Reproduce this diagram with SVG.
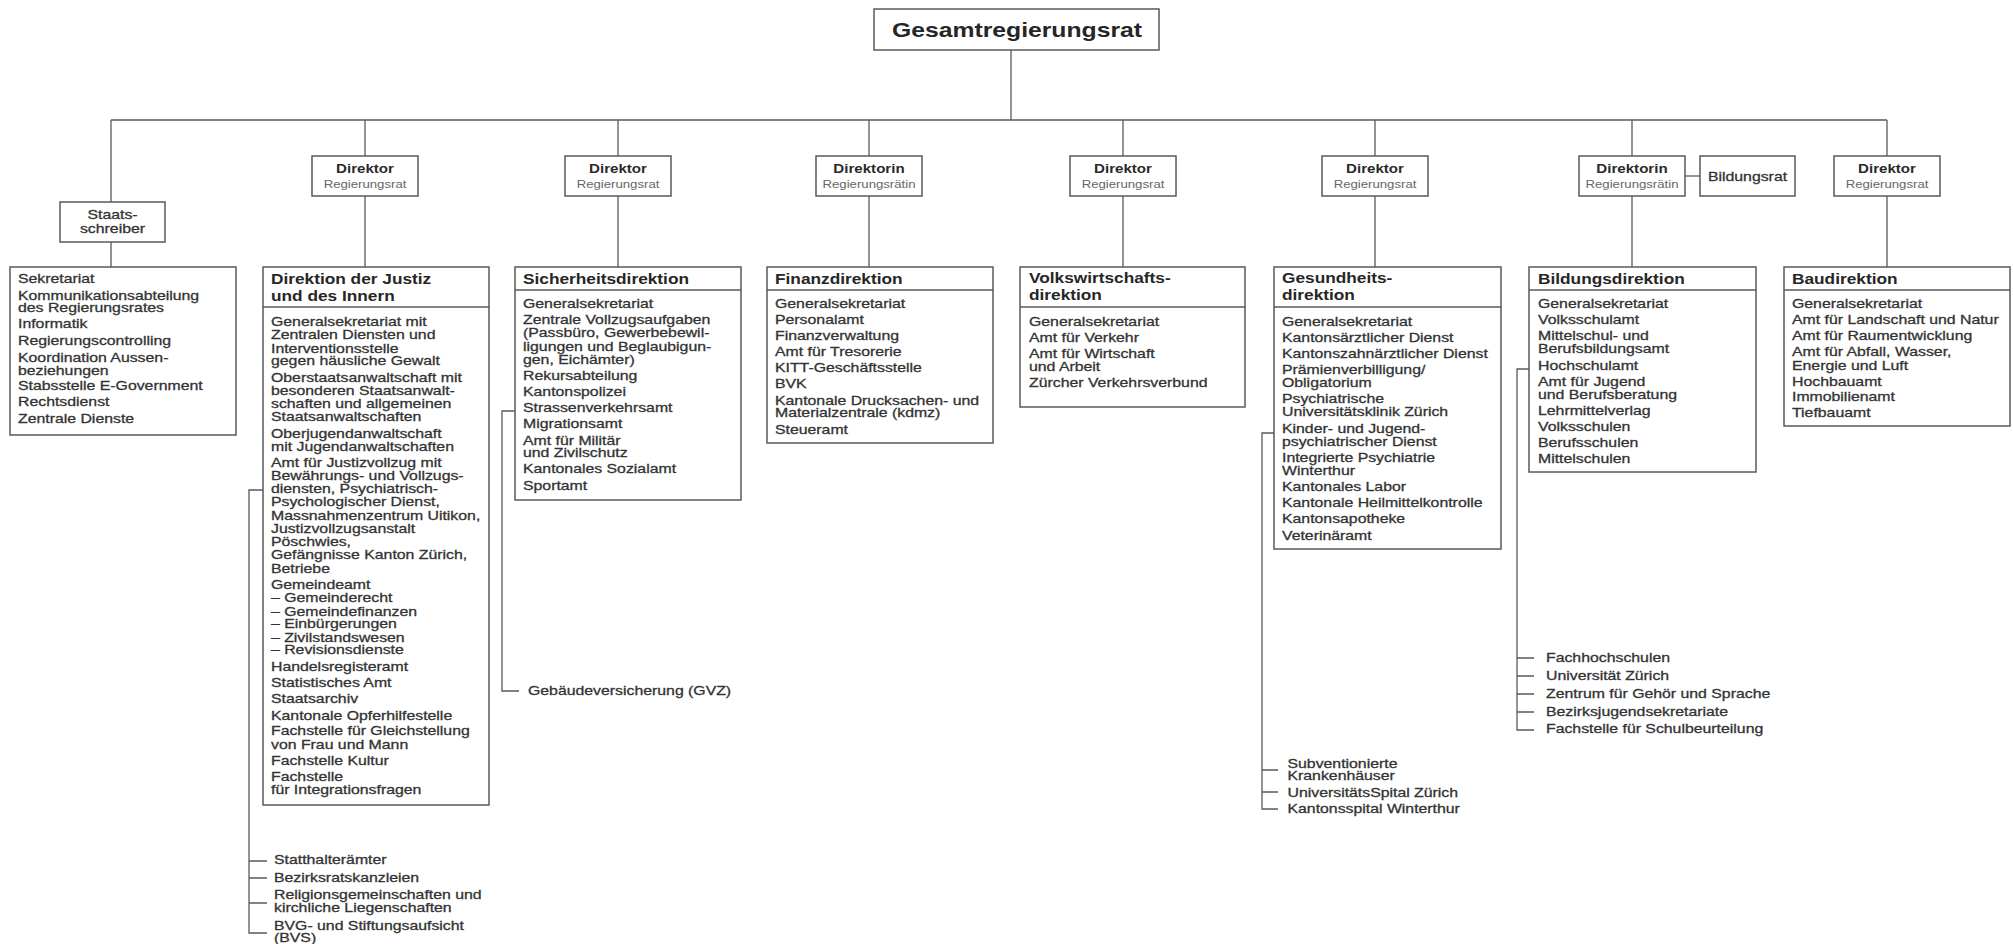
<svg xmlns="http://www.w3.org/2000/svg" width="2013" height="944" viewBox="0 0 2013 944">
<style>
.box{fill:#fff;stroke:#5a5a5a;stroke-width:1.5}
.ln{fill:none;stroke:#5a5a5a;stroke-width:1.3}
text{font-family:"Liberation Sans",Arial,Helvetica,sans-serif;fill:#333}
.b{font-size:13.2px;stroke:#333;stroke-width:0.3}
.h{font-size:14.4px;font-weight:bold;fill:#262626}
.t{font-size:20.6px;font-weight:bold;fill:#262626;text-anchor:middle}
.d{font-size:12.6px;font-weight:bold;fill:#2a2a2a;text-anchor:middle}
.r{font-size:11px;fill:#666;text-anchor:middle}
.c{text-anchor:middle}
</style>
<rect width="2013" height="944" fill="#fff"/>

<g id="connectors" class="ln">
<path d="M1011 50V120M111 120H1887"/>
<path d="M111 120V202M111 242V267"/>
<path d="M365 120V156M365 196V267"/>
<path d="M618 120V156M618 196V267"/>
<path d="M869 120V156M869 196V267"/>
<path d="M1123 120V156M1123 196V267"/>
<path d="M1375 120V156M1375 196V267"/>
<path d="M1632 120V156M1632 196V267"/>
<path d="M1887 120V156M1887 196V267"/>
<path d="M1685 176H1700"/>
<path d="M263 490H249V933H267M249 861H267M249 878H267M249 903H267"/>
<path d="M515 411H502V691H519"/>
<path d="M1274 433H1262V809H1278M1262 770H1278M1262 792H1278"/>
<path d="M1529 369H1517V730H1534M1517 658H1534M1517 676H1534M1517 694H1534M1517 712H1534"/>
</g>

<g id="gesamtregierungsrat">
<rect class="box" x="874" y="9" width="285" height="41"/>
<text class="t" transform="translate(1017 0) scale(1.2 1)" x="0" y="37">Gesamtregierungsrat</text>
</g>

<g id="staatsschreiber">
<rect class="box" x="60" y="202" width="105" height="40"/>
<text class="b c" transform="translate(112.5 0) scale(1.2 1)"><tspan x="0" y="219">Staats-</tspan><tspan x="0" y="233">schreiber</tspan></text>
</g>

<g id="dir-justiz">
<rect class="box" x="312" y="156" width="106" height="40"/>
<text class="d" transform="translate(365 0) scale(1.2 1)" x="0" y="173">Direktor</text>
<text class="r" transform="translate(365 0) scale(1.2 1)" x="0" y="188">Regierungsrat</text>
</g>
<g id="dir-sicherheit">
<rect class="box" x="565" y="156" width="106" height="40"/>
<text class="d" transform="translate(618 0) scale(1.2 1)" x="0" y="173">Direktor</text>
<text class="r" transform="translate(618 0) scale(1.2 1)" x="0" y="188">Regierungsrat</text>
</g>
<g id="dir-finanz">
<rect class="box" x="816" y="156" width="106" height="40"/>
<text class="d" transform="translate(869 0) scale(1.2 1)" x="0" y="173">Direktorin</text>
<text class="r" transform="translate(869 0) scale(1.2 1)" x="0" y="188">Regierungsrätin</text>
</g>
<g id="dir-volkswirtschaft">
<rect class="box" x="1070" y="156" width="106" height="40"/>
<text class="d" transform="translate(1123 0) scale(1.2 1)" x="0" y="173">Direktor</text>
<text class="r" transform="translate(1123 0) scale(1.2 1)" x="0" y="188">Regierungsrat</text>
</g>
<g id="dir-gesundheit">
<rect class="box" x="1322" y="156" width="106" height="40"/>
<text class="d" transform="translate(1375 0) scale(1.2 1)" x="0" y="173">Direktor</text>
<text class="r" transform="translate(1375 0) scale(1.2 1)" x="0" y="188">Regierungsrat</text>
</g>
<g id="dir-bildung">
<rect class="box" x="1579" y="156" width="106" height="40"/>
<text class="d" transform="translate(1632 0) scale(1.2 1)" x="0" y="173">Direktorin</text>
<text class="r" transform="translate(1632 0) scale(1.2 1)" x="0" y="188">Regierungsrätin</text>
</g>
<g id="bildungsrat">
<rect class="box" x="1700" y="156" width="95" height="40"/>
<text class="b c" transform="translate(1747.5 0) scale(1.2 1)" x="0" y="181">Bildungsrat</text>
</g>
<g id="dir-bau">
<rect class="box" x="1834" y="156" width="106" height="40"/>
<text class="d" transform="translate(1887 0) scale(1.2 1)" x="0" y="173">Direktor</text>
<text class="r" transform="translate(1887 0) scale(1.2 1)" x="0" y="188">Regierungsrat</text>
</g>

<g id="staatskanzlei">
<rect class="box" x="10" y="267" width="226" height="168"/>
<text class="b" transform="translate(18 0) scale(1.2 1)">
<tspan x="0" y="283.3">Sekretariat</tspan>
<tspan x="0" y="299.7">Kommunikationsabteilung</tspan>
<tspan x="0" y="312.3">des Regierungsrates</tspan>
<tspan x="0" y="328.3">Informatik</tspan>
<tspan x="0" y="345">Regierungscontrolling</tspan>
<tspan x="0" y="361.7">Koordination Aussen-</tspan>
<tspan x="0" y="374.7">beziehungen</tspan>
<tspan x="0" y="390.3">Stabsstelle E-Government</tspan>
<tspan x="0" y="406.3">Rechtsdienst</tspan>
<tspan x="0" y="422.7">Zentrale Dienste</tspan>
</text>
</g>

<g id="justiz">
<rect class="box" x="263" y="267" width="226" height="538"/>
<line class="ln" x1="263" y1="307" x2="489" y2="307"/>
<text class="h" transform="translate(271 0) scale(1.2 1)"><tspan x="0" y="284">Direktion der Justiz</tspan><tspan x="0" y="301">und des Innern</tspan></text>
<text class="b" transform="translate(271 0) scale(1.2 1)">
<tspan x="0" y="326">Generalsekretariat mit</tspan>
<tspan x="0" y="339.3">Zentralen Diensten und</tspan>
<tspan x="0" y="352.7">Interventionsstelle</tspan>
<tspan x="0" y="365.3">gegen häusliche Gewalt</tspan>
<tspan x="0" y="381.7">Oberstaatsanwaltschaft mit</tspan>
<tspan x="0" y="395">besonderen Staatsanwalt-</tspan>
<tspan x="0" y="408.3">schaften und allgemeinen</tspan>
<tspan x="0" y="421">Staatsanwaltschaften</tspan>
<tspan x="0" y="437.7">Oberjugendanwaltschaft</tspan>
<tspan x="0" y="451">mit Jugendanwaltschaften</tspan>
<tspan x="0" y="467">Amt für Justizvollzug mit</tspan>
<tspan x="0" y="480">Bewährungs- und Vollzugs-</tspan>
<tspan x="0" y="493.3">diensten, Psychiatrisch-</tspan>
<tspan x="0" y="506.3">Psychologischer Dienst,</tspan>
<tspan x="0" y="520">Massnahmenzentrum Uitikon,</tspan>
<tspan x="0" y="532.7">Justizvollzugsanstalt</tspan>
<tspan x="0" y="546">Pöschwies,</tspan>
<tspan x="0" y="559.3">Gefängnisse Kanton Zürich,</tspan>
<tspan x="0" y="572.7">Betriebe</tspan>
<tspan x="0" y="588.7">Gemeindeamt</tspan>
<tspan x="0" y="602">– Gemeinderecht</tspan>
<tspan x="0" y="616">– Gemeindefinanzen</tspan>
<tspan x="0" y="628.3">– Einbürgerungen</tspan>
<tspan x="0" y="642">– Zivilstandswesen</tspan>
<tspan x="0" y="654.3">– Revisionsdienste</tspan>
<tspan x="0" y="671">Handelsregisteramt</tspan>
<tspan x="0" y="687">Statistisches Amt</tspan>
<tspan x="0" y="703.3">Staatsarchiv</tspan>
<tspan x="0" y="719.7">Kantonale Opferhilfestelle</tspan>
<tspan x="0" y="735.3">Fachstelle für Gleichstellung</tspan>
<tspan x="0" y="748.7">von Frau und Mann</tspan>
<tspan x="0" y="765">Fachstelle Kultur</tspan>
<tspan x="0" y="781">Fachstelle</tspan>
<tspan x="0" y="794.3">für Integrationsfragen</tspan>
</text>
</g>
<g id="justiz-extern">
<text class="b" transform="translate(274 0) scale(1.2 1)">
<tspan x="0" y="864">Statthalterämter</tspan>
<tspan x="0" y="882">Bezirksratskanzleien</tspan>
<tspan x="0" y="899">Religionsgemeinschaften und</tspan>
<tspan x="0" y="912">kirchliche Liegenschaften</tspan>
<tspan x="0" y="930">BVG- und Stiftungsaufsicht</tspan>
<tspan x="0" y="942.5">(BVS)</tspan>
</text>
</g>

<g id="sicherheit">
<rect class="box" x="515" y="267" width="226" height="233"/>
<line class="ln" x1="515" y1="290" x2="741" y2="290"/>
<text class="h" transform="translate(523 0) scale(1.2 1)" x="0" y="284">Sicherheitsdirektion</text>
<text class="b" transform="translate(523 0) scale(1.2 1)">
<tspan x="0" y="308.3">Generalsekretariat</tspan>
<tspan x="0" y="324">Zentrale Vollzugsaufgaben</tspan>
<tspan x="0" y="337.3">(Passbüro, Gewerbebewil-</tspan>
<tspan x="0" y="350.7">ligungen und Beglaubigun-</tspan>
<tspan x="0" y="364">gen, Eichämter)</tspan>
<tspan x="0" y="379.7">Rekursabteilung</tspan>
<tspan x="0" y="395.7">Kantonspolizei</tspan>
<tspan x="0" y="412.3">Strassenverkehrsamt</tspan>
<tspan x="0" y="428.3">Migrationsamt</tspan>
<tspan x="0" y="444.7">Amt für Militär</tspan>
<tspan x="0" y="457.3">und Zivilschutz</tspan>
<tspan x="0" y="473.3">Kantonales Sozialamt</tspan>
<tspan x="0" y="489.7">Sportamt</tspan>
</text>
</g>
<g id="sicherheit-extern">
<text class="b" transform="translate(528 0) scale(1.2 1)" x="0" y="695">Gebäudeversicherung (GVZ)</text>
</g>

<g id="finanz">
<rect class="box" x="767" y="267" width="226" height="176"/>
<line class="ln" x1="767" y1="290" x2="993" y2="290"/>
<text class="h" transform="translate(775 0) scale(1.2 1)" x="0" y="284">Finanzdirektion</text>
<text class="b" transform="translate(775 0) scale(1.2 1)">
<tspan x="0" y="308.3">Generalsekretariat</tspan>
<tspan x="0" y="324.3">Personalamt</tspan>
<tspan x="0" y="340">Finanzverwaltung</tspan>
<tspan x="0" y="356">Amt für Tresorerie</tspan>
<tspan x="0" y="372.3">KITT-Geschäftsstelle</tspan>
<tspan x="0" y="388.3">BVK</tspan>
<tspan x="0" y="405">Kantonale Drucksachen- und</tspan>
<tspan x="0" y="417.3">Materialzentrale (kdmz)</tspan>
<tspan x="0" y="434">Steueramt</tspan>
</text>
</g>

<g id="volkswirtschaft">
<rect class="box" x="1020" y="267" width="225" height="140"/>
<line class="ln" x1="1020" y1="307" x2="1245" y2="307"/>
<text class="h" transform="translate(1029 0) scale(1.2 1)"><tspan x="0" y="283.5">Volkswirtschafts-</tspan><tspan x="0" y="300.5">direktion</tspan></text>
<text class="b" transform="translate(1029 0) scale(1.2 1)">
<tspan x="0" y="325.7">Generalsekretariat</tspan>
<tspan x="0" y="341.7">Amt für Verkehr</tspan>
<tspan x="0" y="357.7">Amt für Wirtschaft</tspan>
<tspan x="0" y="370.7">und Arbeit</tspan>
<tspan x="0" y="386.7">Zürcher Verkehrsverbund</tspan>
</text>
</g>

<g id="gesundheit">
<rect class="box" x="1274" y="267" width="227" height="282"/>
<line class="ln" x1="1274" y1="307" x2="1501" y2="307"/>
<text class="h" transform="translate(1282 0) scale(1.2 1)"><tspan x="0" y="283.5">Gesundheits-</tspan><tspan x="0" y="300.5">direktion</tspan></text>
<text class="b" transform="translate(1282 0) scale(1.2 1)">
<tspan x="0" y="325.7">Generalsekretariat</tspan>
<tspan x="0" y="341.7">Kantonsärztlicher Dienst</tspan>
<tspan x="0" y="358">Kantonszahnärztlicher Dienst</tspan>
<tspan x="0" y="374">Prämienverbilligung/</tspan>
<tspan x="0" y="386.7">Obligatorium</tspan>
<tspan x="0" y="403">Psychiatrische</tspan>
<tspan x="0" y="416.3">Universitätsklinik Zürich</tspan>
<tspan x="0" y="433">Kinder- und Jugend-</tspan>
<tspan x="0" y="445.7">psychiatrischer Dienst</tspan>
<tspan x="0" y="461.7">Integrierte Psychiatrie</tspan>
<tspan x="0" y="475">Winterthur</tspan>
<tspan x="0" y="491.3">Kantonales Labor</tspan>
<tspan x="0" y="506.7">Kantonale Heilmittelkontrolle</tspan>
<tspan x="0" y="523">Kantonsapotheke</tspan>
<tspan x="0" y="539.7">Veterinäramt</tspan>
</text>
</g>
<g id="gesundheit-extern">
<text class="b" transform="translate(1287.5 0) scale(1.2 1)">
<tspan x="0" y="768.3">Subventionierte</tspan>
<tspan x="0" y="780">Krankenhäuser</tspan>
<tspan x="0" y="796.7">UniversitätsSpital Zürich</tspan>
<tspan x="0" y="813.3">Kantonsspital Winterthur</tspan>
</text>
</g>

<g id="bildung">
<rect class="box" x="1529" y="267" width="227" height="205"/>
<line class="ln" x1="1529" y1="290" x2="1756" y2="290"/>
<text class="h" transform="translate(1538 0) scale(1.2 1)" x="0" y="284">Bildungsdirektion</text>
<text class="b" transform="translate(1538 0) scale(1.2 1)">
<tspan x="0" y="308">Generalsekretariat</tspan>
<tspan x="0" y="324.3">Volksschulamt</tspan>
<tspan x="0" y="340">Mittelschul- und</tspan>
<tspan x="0" y="353.3">Berufsbildungsamt</tspan>
<tspan x="0" y="369.7">Hochschulamt</tspan>
<tspan x="0" y="385.7">Amt für Jugend</tspan>
<tspan x="0" y="399">und Berufsberatung</tspan>
<tspan x="0" y="415">Lehrmittelverlag</tspan>
<tspan x="0" y="431">Volksschulen</tspan>
<tspan x="0" y="447.3">Berufsschulen</tspan>
<tspan x="0" y="463.3">Mittelschulen</tspan>
</text>
</g>
<g id="bildung-extern">
<text class="b" transform="translate(1546 0) scale(1.2 1)">
<tspan x="0" y="662.3">Fachhochschulen</tspan>
<tspan x="0" y="680">Universität Zürich</tspan>
<tspan x="0" y="697.7">Zentrum für Gehör und Sprache</tspan>
<tspan x="0" y="715.7">Bezirksjugendsekretariate</tspan>
<tspan x="0" y="732.7">Fachstelle für Schulbeurteilung</tspan>
</text>
</g>

<g id="bau">
<rect class="box" x="1784" y="267" width="226" height="159"/>
<line class="ln" x1="1784" y1="290" x2="2010" y2="290"/>
<text class="h" transform="translate(1792 0) scale(1.2 1)" x="0" y="284">Baudirektion</text>
<text class="b" transform="translate(1792 0) scale(1.2 1)">
<tspan x="0" y="308">Generalsekretariat</tspan>
<tspan x="0" y="324.3">Amt für Landschaft und Natur</tspan>
<tspan x="0" y="340">Amt für Raumentwicklung</tspan>
<tspan x="0" y="356">Amt für Abfall, Wasser,</tspan>
<tspan x="0" y="369.7">Energie und Luft</tspan>
<tspan x="0" y="385.7">Hochbauamt</tspan>
<tspan x="0" y="401.3">Immobilienamt</tspan>
<tspan x="0" y="417.3">Tiefbauamt</tspan>
</text>
</g>
</svg>
